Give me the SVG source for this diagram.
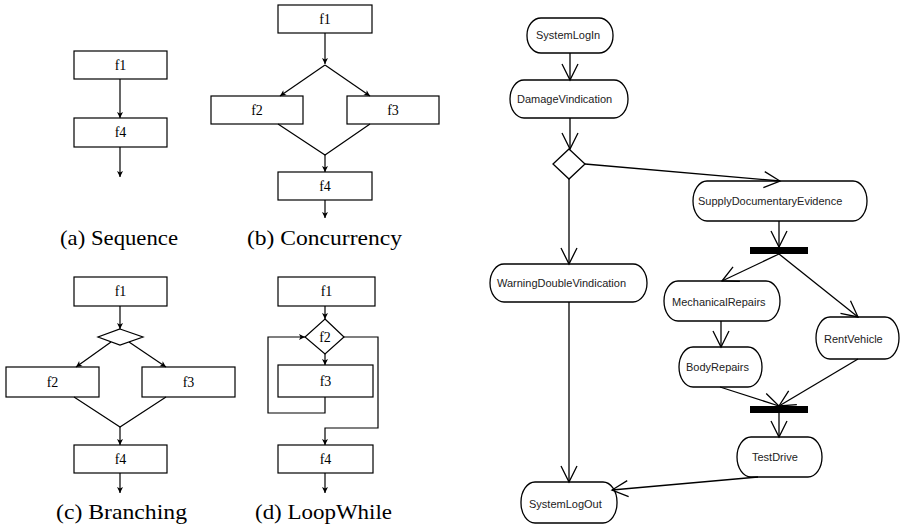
<svg xmlns="http://www.w3.org/2000/svg" width="900" height="530" viewBox="0 0 900 530">
<style>
.box{fill:#fff;stroke:#000;stroke-width:1.2}
.ln{fill:none;stroke:#000;stroke-width:1.2}
.lbl{font-family:"Liberation Serif","Times New Roman",serif;font-size:14px;fill:#000;text-anchor:middle}
.cap{font-family:"Liberation Serif","Times New Roman",serif;font-size:21px;fill:#000}
.act{fill:#fff;stroke:#000;stroke-width:1.3}
.aln{fill:none;stroke:#000;stroke-width:1.3}
.atx{font-family:"Liberation Sans",Arial,sans-serif;font-size:11px;fill:#222}
.bar{fill:#000}
</style>
<defs>
<marker id="ah" markerUnits="userSpaceOnUse" viewBox="-8 -4 9 8" refX="0" refY="0" markerWidth="9" markerHeight="8" orient="auto" overflow="visible">
<path d="M-6,-3 L0,0 L-6,3 L-4.5,0 z" fill="#000"/>
</marker>
<marker id="va" markerUnits="userSpaceOnUse" viewBox="-17 -9 18 18" refX="0" refY="0" markerWidth="18" markerHeight="18" orient="auto" overflow="visible">
<path d="M-16,-8 L0,0 L-16,8" fill="none" stroke="#000" stroke-width="1.3"/>
</marker>
</defs>

<!-- (a) Sequence -->
<g id="a-f1"><rect class="box" x="74" y="51" width="93" height="28"/><text class="lbl" x="120.5" y="70">f1</text></g>
<g id="a-f4"><rect class="box" x="74" y="118" width="93" height="29"/><text class="lbl" x="120.5" y="137">f4</text></g>
<g id="a-edges">
<line class="ln" x1="120" y1="79" x2="120" y2="118" marker-end="url(#ah)"/>
<line class="ln" x1="120" y1="147" x2="120" y2="177" marker-end="url(#ah)"/>
</g>
<text class="cap" x="60" y="245" textLength="118" lengthAdjust="spacingAndGlyphs">(a) Sequence</text>

<!-- (b) Concurrency -->
<g id="b-f1"><rect class="box" x="278" y="5" width="94" height="28"/><text class="lbl" x="325" y="24">f1</text></g>
<g id="b-f2"><rect class="box" x="211" y="96" width="92" height="28"/><text class="lbl" x="257" y="115">f2</text></g>
<g id="b-f3"><rect class="box" x="347" y="96" width="92" height="28"/><text class="lbl" x="393" y="115">f3</text></g>
<g id="b-f4"><rect class="box" x="278" y="172" width="94" height="28"/><text class="lbl" x="325" y="191">f4</text></g>
<g id="b-edges">
<line class="ln" x1="325" y1="33" x2="325" y2="64" marker-end="url(#ah)"/>
<line class="ln" x1="325" y1="65" x2="280" y2="96" marker-end="url(#ah)"/>
<line class="ln" x1="325" y1="65" x2="370" y2="96" marker-end="url(#ah)"/>
<polyline class="ln" points="278,124 325,155 370,124"/>
<line class="ln" x1="325" y1="155" x2="325" y2="172" marker-end="url(#ah)"/>
<line class="ln" x1="325" y1="200" x2="325" y2="218" marker-end="url(#ah)"/>
</g>
<text class="cap" x="247" y="245" textLength="155" lengthAdjust="spacingAndGlyphs">(b) Concurrency</text>

<!-- (c) Branching -->
<g id="c-f1"><rect class="box" x="74" y="277" width="93" height="29"/><text class="lbl" x="120.5" y="296">f1</text></g>
<g id="c-dec"><polygon class="box" points="120,329 143,337 120,345 98,337"/></g>
<g id="c-f2"><rect class="box" x="6" y="367" width="93" height="30"/><text class="lbl" x="52.5" y="387">f2</text></g>
<g id="c-f3"><rect class="box" x="142" y="367" width="93" height="30"/><text class="lbl" x="188.5" y="387">f3</text></g>
<g id="c-f4"><rect class="box" x="74" y="445" width="93" height="28"/><text class="lbl" x="120.5" y="464">f4</text></g>
<g id="c-edges">
<line class="ln" x1="120" y1="306" x2="120" y2="329" marker-end="url(#ah)"/>
<line class="ln" x1="111" y1="342" x2="76" y2="367" marker-end="url(#ah)"/>
<line class="ln" x1="129" y1="342" x2="166" y2="367" marker-end="url(#ah)"/>
<polyline class="ln" points="74,397 120,427 166,397"/>
<line class="ln" x1="120" y1="427" x2="120" y2="445" marker-end="url(#ah)"/>
<line class="ln" x1="120" y1="473" x2="120" y2="493" marker-end="url(#ah)"/>
</g>
<text class="cap" x="56" y="519" textLength="131" lengthAdjust="spacingAndGlyphs">(c) Branching</text>

<!-- (d) LoopWhile -->
<g id="d-f1"><rect class="box" x="278" y="277" width="97" height="29"/><text class="lbl" x="326.5" y="296">f1</text></g>
<g id="d-f2"><polygon class="box" points="325,319 344,337 325,354 305,337"/><text class="lbl" x="325" y="342">f2</text></g>
<g id="d-f3"><rect class="box" x="278" y="365" width="95" height="32"/><text class="lbl" x="325.5" y="386">f3</text></g>
<g id="d-f4"><rect class="box" x="278" y="445" width="95" height="28"/><text class="lbl" x="325.5" y="464">f4</text></g>
<g id="d-edges">
<line class="ln" x1="325" y1="306" x2="325" y2="319" marker-end="url(#ah)"/>
<line class="ln" x1="325" y1="354" x2="325" y2="365" marker-end="url(#ah)"/>
<polyline class="ln" points="325,397 325,413 268,413 268,337 305,337" marker-end="url(#ah)"/>
<polyline class="ln" points="344,337 378,337 378,428 325,428 325,445" marker-end="url(#ah)"/>
<line class="ln" x1="325" y1="473" x2="325" y2="493" marker-end="url(#ah)"/>
</g>
<text class="cap" x="255" y="519" textLength="137" lengthAdjust="spacingAndGlyphs">(d) LoopWhile</text>

<!-- Activity diagram -->
<g id="SystemLogIn"><rect class="act" x="527" y="18" width="86" height="35" rx="14" ry="17"/><text class="atx" x="536" y="39">SystemLogIn</text></g>
<g id="DamageVindication"><rect class="act" x="510" y="80" width="118" height="38" rx="14" ry="19"/><text class="atx" x="517" y="103">DamageVindication</text></g>
<g id="Decision"><polygon class="act" points="569,149 585,164 569,179 553,164"/></g>
<g id="SupplyDocumentaryEvidence"><rect class="act" x="693" y="181" width="174" height="40" rx="14" ry="20"/><text class="atx" x="698" y="205">SupplyDocumentaryEvidence</text></g>
<g id="Fork"><rect class="bar" x="750" y="247" width="58" height="7"/></g>
<g id="WarningDoubleVindication"><rect class="act" x="490" y="264" width="157" height="38" rx="14" ry="19"/><text class="atx" x="497" y="287">WarningDoubleVindication</text></g>
<g id="MechanicalRepairs"><rect class="act" x="664" y="281" width="116" height="40" rx="14" ry="20"/><text class="atx" x="672" y="306">MechanicalRepairs</text></g>
<g id="RentVehicle"><rect class="act" x="816" y="317" width="83" height="42" rx="14" ry="21"/><text class="atx" x="824" y="343">RentVehicle</text></g>
<g id="BodyRepairs"><rect class="act" x="679" y="347" width="83" height="40" rx="14" ry="20"/><text class="atx" x="686" y="371">BodyRepairs</text></g>
<g id="Join"><rect class="bar" x="750" y="406" width="58" height="7"/></g>
<g id="TestDrive"><rect class="act" x="737" y="437" width="85" height="40" rx="14" ry="20"/><text class="atx" x="752" y="461">TestDrive</text></g>
<g id="SystemLogOut"><rect class="act" x="521" y="482" width="96" height="41" rx="14" ry="20"/><text class="atx" x="529" y="508">SystemLogOut</text></g>
<g id="activity-edges">
<line class="aln" x1="570" y1="53" x2="570" y2="80" marker-end="url(#va)"/>
<line class="aln" x1="570" y1="118" x2="570" y2="149" marker-end="url(#va)"/>
<line class="aln" x1="585" y1="164" x2="780" y2="181" marker-end="url(#va)"/>
<line class="aln" x1="569" y1="179" x2="569" y2="264" marker-end="url(#va)"/>
<line class="aln" x1="779" y1="221" x2="779" y2="247" marker-end="url(#va)"/>
<line class="aln" x1="779" y1="254" x2="722" y2="281" marker-end="url(#va)"/>
<line class="aln" x1="779" y1="254" x2="858" y2="317" marker-end="url(#va)"/>
<line class="aln" x1="721" y1="321" x2="721" y2="347" marker-end="url(#va)"/>
<line class="aln" x1="720" y1="387" x2="779" y2="406" marker-end="url(#va)"/>
<line class="aln" x1="858" y1="359" x2="779" y2="406" marker-end="url(#va)"/>
<line class="aln" x1="779" y1="413" x2="779" y2="437" marker-end="url(#va)"/>
<line class="aln" x1="569" y1="302" x2="569" y2="482" marker-end="url(#va)"/>
<line class="aln" x1="758" y1="477" x2="612" y2="490" marker-end="url(#va)"/>
</g>
</svg>
